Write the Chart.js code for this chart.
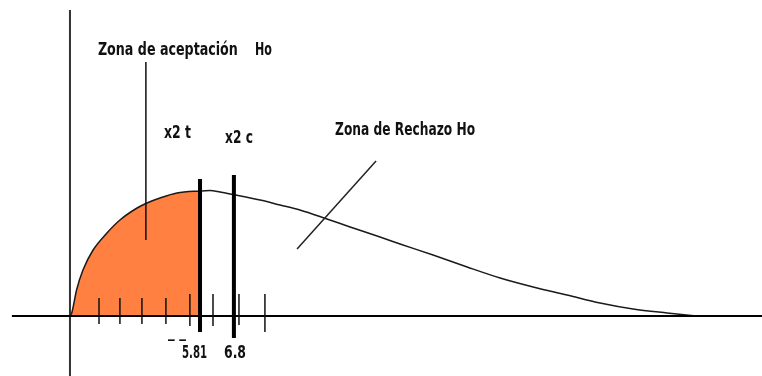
<!DOCTYPE html>
<html>
<head>
<meta charset="utf-8">
<script src="https://cdn.jsdelivr.net/npm/chart.js@4"></script>
<style>
body{margin:0;background:#fff;}
#box{width:762px;height:376px;}
</style>
</head>
<body>
<div id="box"><canvas id="myChart"></canvas></div>
<script>
// curve (x in chi2 units, y as density)
let curveX=[0,0.08,0.30,0.59,1.05,1.68,2.27,3.05,3.5,4.09,4.86,5.91,6.36,6.82,7.41,8.64,9.55,10.45,11.68,12.73,14.09,15.0,16.5,18.05,19.55,21.05,22.59,24.09,25.59,27.14,28.45];
let curveY=[0,0.003,0.026,0.046,0.066,0.083,0.096,0.108,0.113,0.118,0.123,0.125,0.1255,0.124,0.1215,0.116,0.111,0.106,0.097,0.089,0.079,0.072,0.061,0.049,0.038,0.029,0.021,0.013,0.007,0.003,0];
let tickX=[1.32,2.27,3.27,4.36,5.45,6.5,7.68,8.86];
let tickTop=[0.018,0.018,0.018,0.018,0.022,0.022,0.022,0.022];
let tickBottom=[-0.008,-0.008,-0.008,-0.008,-0.010,-0.010,-0.009,-0.016];
let chiTable=5.91;   // x2 t
let chiCalc=7.45;    // x2 c
let labels=["Zona de aceptación","Ho","x2 t","x2 c","Zona de Rechazo Ho","5.81","6.8","_ _"];

let curve=curveX.map((x,i)=>({x:x,y:curveY[i]}));
let accept=curve.filter(p=>p.x<=chiTable);
let ticks=[];
for(var i=0;i<tickX.length;i++){
    ticks.push({x:tickX[i],y:tickTop[i]});
    ticks.push({x:tickX[i],y:tickBottom[i]});
    ticks.push({x:tickX[i],y:null});
}

// where the texts go, in data units: [x, baseline y, width]
let notePos=[[1.27,0.261,6.36],[8.41,0.261,0.77],[4.27,0.178,1.23],[7.05,0.173,1.27],[12.05,0.181,6.36],[5.09,-0.042,1.14],[7.0,-0.042,1.0],[4.45,-0.021,0.82]];

const textPlugin={
    id:'notes',
    afterDatasetsDraw(chart){
        let c=chart.ctx, xs=chart.scales.x, ys=chart.scales.y;
        c.save();
        c.fillStyle='#111';
        c.font='bold 17px "Liberation Sans Narrow", "DejaVu Sans Condensed", sans-serif';
        c.textBaseline='alphabetic';
        labels.forEach((t,i)=>{
            let p=notePos[i];
            let px=xs.getPixelForValue(p[0]);
            let py=ys.getPixelForValue(p[1]);
            let w=xs.getPixelForValue(p[0]+p[2])-px;
            let m=c.measureText(t).width;
            c.save();
            c.translate(px,py);
            c.scale(w/m,1);
            c.fillText(t,0,0);
            c.restore();
        });
        c.restore();
    }
};

const ctx=document.getElementById('myChart');
new Chart(ctx,{
    type:'line',
    data:{
        datasets:[
            {data:accept,fill:'origin',backgroundColor:'#ff8040',borderWidth:0,pointRadius:0,order:10,cubicInterpolationMode:'monotone'},
            {data:curve,borderColor:'#1a1a1a',borderWidth:1.5,pointRadius:0,order:5,cubicInterpolationMode:'monotone'},
            {data:[{x:-2.64,y:0},{x:31.5,y:0}],borderColor:'#000',borderWidth:2,pointRadius:0,order:4},
            {data:[{x:0,y:0.306},{x:0,y:-0.07}],borderColor:'#333',borderWidth:2,pointRadius:0,order:4},
            {data:ticks,borderColor:'#111',borderWidth:1.5,pointRadius:0,spanGaps:false,order:3},
            {data:[{x:chiTable,y:0.137},{x:chiTable,y:-0.016}],borderColor:'#000',borderWidth:4,pointRadius:0,order:2},
            {data:[{x:chiCalc,y:0.141},{x:chiCalc,y:-0.022}],borderColor:'#000',borderWidth:4,pointRadius:0,order:2},
            {data:[{x:3.45,y:0.254},{x:3.45,y:0.076}],borderColor:'#111',borderWidth:1.5,pointRadius:0,order:1},
            {data:[{x:13.91,y:0.155},{x:10.32,y:0.067}],borderColor:'#222',borderWidth:1.5,pointRadius:0,order:1}
        ]
    },
    options:{
        responsive:true,
        maintainAspectRatio:false,
        animation:false,
        layout:{padding:0},
        plugins:{legend:{display:false},tooltip:{enabled:false}},
        scales:{
            x:{type:'linear',min:-3.18,max:31.45,display:false},
            y:{min:-0.06,max:0.316,display:false}
        }
    },
    plugins:[textPlugin]
});
</script>
</body>
</html>
